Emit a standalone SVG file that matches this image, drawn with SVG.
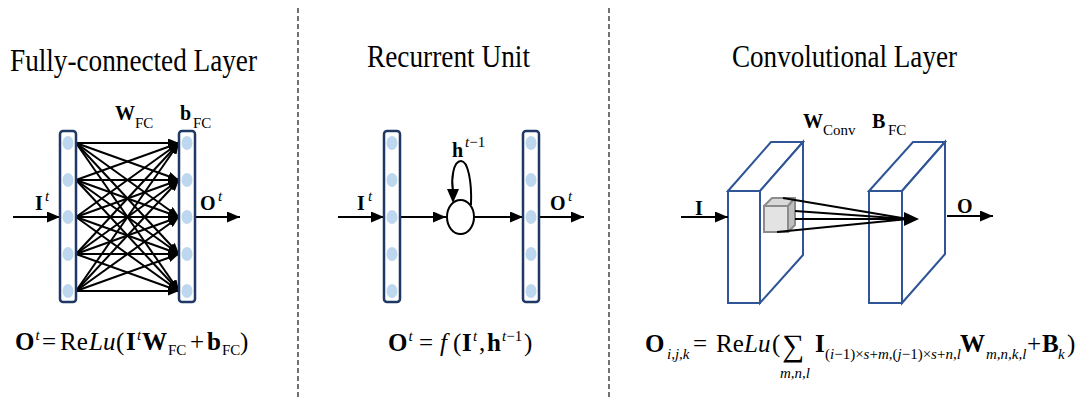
<svg xmlns="http://www.w3.org/2000/svg" width="1084" height="403" viewBox="0 0 1084 403">
<defs>
<style>
text{font-family:"Liberation Serif","Times New Roman",serif;fill:#000}
.t{font-size:31px}
.b{font-weight:bold}
.n{font-weight:normal}
.i{font-style:italic}
.lab{font-size:20px}
.fm{font-size:25px}
.sm{font-size:15px}
.sp{font-size:15px}
.bar{fill:#fff;stroke:#1f3864;stroke-width:2.5}
.dot{fill:#bdd7ee}
.slab{fill:#fff;stroke:#2f5597;stroke-width:2;stroke-linejoin:miter}
.ln{stroke:#000;stroke-width:2;fill:none}
.dash{stroke:#444;stroke-width:1.5;stroke-dasharray:5 3}
</style>
<marker id="ah" markerWidth="13" markerHeight="11" refX="13" refY="5.5" orient="auto" markerUnits="userSpaceOnUse"><path d="M0,0 L13,5.5 L0,11 z" fill="#000"/></marker>
<marker id="as" markerWidth="11" markerHeight="9" refX="11" refY="4.5" orient="auto" markerUnits="userSpaceOnUse"><path d="M0,0 L11,4.5 L0,9 z" fill="#000"/></marker>
<g id="barShape">
<rect class="bar" x="0" y="0" width="16" height="171" rx="3"/>
<ellipse class="dot" cx="8" cy="12" rx="5.5" ry="7"/>
<ellipse class="dot" cx="8" cy="49" rx="5.5" ry="7"/>
<ellipse class="dot" cx="8" cy="86" rx="5.5" ry="7"/>
<ellipse class="dot" cx="8" cy="123" rx="5.5" ry="7"/>
<ellipse class="dot" cx="8" cy="160" rx="5.5" ry="7"/>
</g>
</defs>
<rect width="1084" height="403" fill="#fff"/>

<g id="separators">
<line class="dash" x1="298" y1="8" x2="298" y2="400"/>
<line class="dash" x1="609" y1="8" x2="609" y2="400"/>
</g>

<g id="titles">
<text class="t" x="10" y="71" textLength="247" lengthAdjust="spacingAndGlyphs">Fully-connected Layer</text>
<text class="t" x="367" y="67" textLength="163" lengthAdjust="spacingAndGlyphs">Recurrent Unit</text>
<text class="t" x="732" y="67" textLength="225" lengthAdjust="spacingAndGlyphs">Convolutional Layer</text>
</g>

<!-- Fully-connected -->
<g id="fc-connectors">
<g class="ln" marker-end="url(#as)">
<line x1="76" y1="143" x2="179" y2="143"/><line x1="76" y1="143" x2="179" y2="180"/><line x1="76" y1="143" x2="179" y2="217"/><line x1="76" y1="143" x2="179" y2="254"/><line x1="76" y1="143" x2="179" y2="291"/>
<line x1="76" y1="180" x2="179" y2="143"/><line x1="76" y1="180" x2="179" y2="180"/><line x1="76" y1="180" x2="179" y2="217"/><line x1="76" y1="180" x2="179" y2="254"/><line x1="76" y1="180" x2="179" y2="291"/>
<line x1="76" y1="217" x2="179" y2="143"/><line x1="76" y1="217" x2="179" y2="180"/><line x1="76" y1="217" x2="179" y2="217"/><line x1="76" y1="217" x2="179" y2="254"/><line x1="76" y1="217" x2="179" y2="291"/>
<line x1="76" y1="254" x2="179" y2="143"/><line x1="76" y1="254" x2="179" y2="180"/><line x1="76" y1="254" x2="179" y2="217"/><line x1="76" y1="254" x2="179" y2="254"/><line x1="76" y1="254" x2="179" y2="291"/>
<line x1="76" y1="291" x2="179" y2="143"/><line x1="76" y1="291" x2="179" y2="180"/><line x1="76" y1="291" x2="179" y2="217"/><line x1="76" y1="291" x2="179" y2="254"/><line x1="76" y1="291" x2="179" y2="291"/>
</g>
<g class="ln" marker-end="url(#ah)">
<line x1="13" y1="217" x2="60" y2="217"/>
<line x1="195" y1="217" x2="240" y2="217"/>
</g>
</g>
<g id="fc-input-bar"><use href="#barShape" x="60" y="131"/></g>
<g id="fc-output-bar"><use href="#barShape" x="179" y="131"/></g>

<!-- Recurrent -->
<g id="rnn-connectors">
<g class="ln" marker-end="url(#ah)">
<line x1="338" y1="217" x2="384" y2="217"/>
<line x1="400" y1="217" x2="446" y2="217"/>
<line x1="474" y1="217" x2="523" y2="217"/>
<line x1="539" y1="217" x2="584" y2="217"/>
</g>
<path class="ln" d="M471,205 C472,182 468,161 461,161 C453,161 451,180 453,191"/>
<path d="M447,189 L459,189 L453,203 z" fill="#000"/>
</g>
<g id="rnn-input-bar"><use href="#barShape" x="384" y="131"/></g>
<g id="rnn-output-bar"><use href="#barShape" x="523" y="131"/></g>
<g id="rnn-cell"><ellipse cx="460.5" cy="217" rx="13.5" ry="17" fill="#fff" stroke="#000" stroke-width="2"/></g>

<!-- Convolutional -->
<g id="conv-input-slab">
<rect class="slab" x="728" y="191" width="32" height="112"/>
<polygon class="slab" points="728,191 771,142 803,142 760,191"/>
<polygon class="slab" points="760,191 803,142 803,255 760,303"/>
</g>
<g id="conv-output-slab">
<rect class="slab" x="869" y="191" width="33" height="112"/>
<polygon class="slab" points="869,191 913,142 945,142 902,191"/>
<polygon class="slab" points="902,191 945,142 945,254 902,303"/>
</g>
<g id="conv-kernel">
<polygon points="764,206 772,198 795,198 788,206" fill="#d9d9d9" stroke="#8c8c8c" stroke-width="2" stroke-linejoin="round"/>
<polygon points="788,206 795,198 795,225 788,232" fill="#bfbfbf" stroke="#8c8c8c" stroke-width="2" stroke-linejoin="round"/>
<rect x="764" y="206" width="24" height="26" fill="#e3e3e3" stroke="#8c8c8c" stroke-width="2"/>
</g>
<g id="conv-connectors">
<g class="ln">
<line x1="783" y1="198" x2="908" y2="219"/>
<line x1="795" y1="211" x2="908" y2="219"/>
<line x1="795" y1="219" x2="908" y2="219"/>
<line x1="777" y1="232" x2="908" y2="219"/>
</g>
<path d="M904,212 L919,219 L904,226 z" fill="#000"/>
<g class="ln" marker-end="url(#ah)">
<line x1="681" y1="217" x2="728" y2="217"/>
<line x1="947" y1="216" x2="993" y2="216"/>
</g>
</g>

<g id="labels">
<text class="lab b" x="115" y="120">W<tspan class="sm n" x="135" y="128">FC</tspan></text>
<text class="lab b" x="180" y="120">b<tspan class="sm n" x="193" y="128">FC</tspan></text>
<text class="lab b" x="35" y="210">I<tspan class="sm i n" x="45" y="201">t</tspan></text>
<text class="lab b" x="200" y="210">O<tspan class="sm i n" x="218" y="201">t</tspan></text>

<text class="lab b" x="357" y="210">I<tspan class="sm i n" x="368" y="201">t</tspan></text>
<text class="lab b" x="550" y="210">O<tspan class="sm i n" x="568" y="201">t</tspan></text>
<text class="lab b" x="452" y="157">h<tspan class="sm i n" x="465" y="147">t</tspan><tspan class="sm n">−1</tspan></text>

<text class="lab b" x="803" y="128">W<tspan class="sm n" x="823" y="135">Conv</tspan></text>
<text class="lab b" x="872" y="128">B<tspan class="sm n" x="888" y="135">FC</tspan></text>
<text class="lab b" x="695" y="215">I</text>
<text class="lab b" x="957" y="213">O</text>
</g>

<g id="formulas">
<text class="fm" y="350"><tspan class="b" x="15">O</tspan><tspan class="sp i" x="35.5" y="340">t</tspan><tspan x="42" y="350">=</tspan><tspan x="60">Re</tspan><tspan class="i" x="89">Lu</tspan><tspan x="116">(</tspan><tspan class="b" x="126">I</tspan><tspan class="sp i" x="137" y="340">t</tspan><tspan class="b" x="142" y="350">W</tspan><tspan class="sm" x="168" y="355">FC</tspan><tspan x="190" y="350">+</tspan><tspan class="b" x="207">b</tspan><tspan class="sm" x="222" y="355">FC</tspan><tspan x="240" y="350">)</tspan></text>

<text class="fm" y="351"><tspan class="b" x="388">O</tspan><tspan class="sp i" x="408.5" y="341">t</tspan><tspan x="419" y="351">=</tspan><tspan class="i" x="440">f</tspan><tspan x="453">(</tspan><tspan class="b" x="462">I</tspan><tspan class="sp i" x="473" y="341">t</tspan><tspan x="479" y="351">,</tspan><tspan class="b" x="487">h</tspan><tspan class="sp i" x="502" y="341">t</tspan><tspan class="sp" y="341">−1</tspan><tspan x="524" y="351">)</tspan></text>

<text class="fm" y="352"><tspan class="b" x="645">O</tspan><tspan class="sm i" x="667" y="359">i,j,k</tspan><tspan x="693" y="352">=</tspan><tspan x="716">Re</tspan><tspan class="i" x="744">Lu</tspan><tspan x="772">(</tspan><tspan x="782" y="356" font-size="31">∑</tspan><tspan class="b" x="815" y="352">I</tspan><tspan class="sm" x="825" y="359">(<tspan class="i">i</tspan>−1)×<tspan class="i">s</tspan>+<tspan class="i">m</tspan>,(<tspan class="i">j</tspan>−1)×<tspan class="i">s</tspan>+<tspan class="i">n</tspan>,<tspan class="i">l</tspan></tspan><tspan class="b" x="960" y="352">W</tspan><tspan class="sm i" x="986" y="359">m,n,k,l</tspan><tspan x="1027" y="352">+</tspan><tspan class="b" x="1042">B</tspan><tspan class="sm i" x="1058" y="359">k</tspan><tspan x="1067" y="352">)</tspan></text>
<text class="sm i" x="780" y="378">m,n,l</text>
</g>
</svg>
